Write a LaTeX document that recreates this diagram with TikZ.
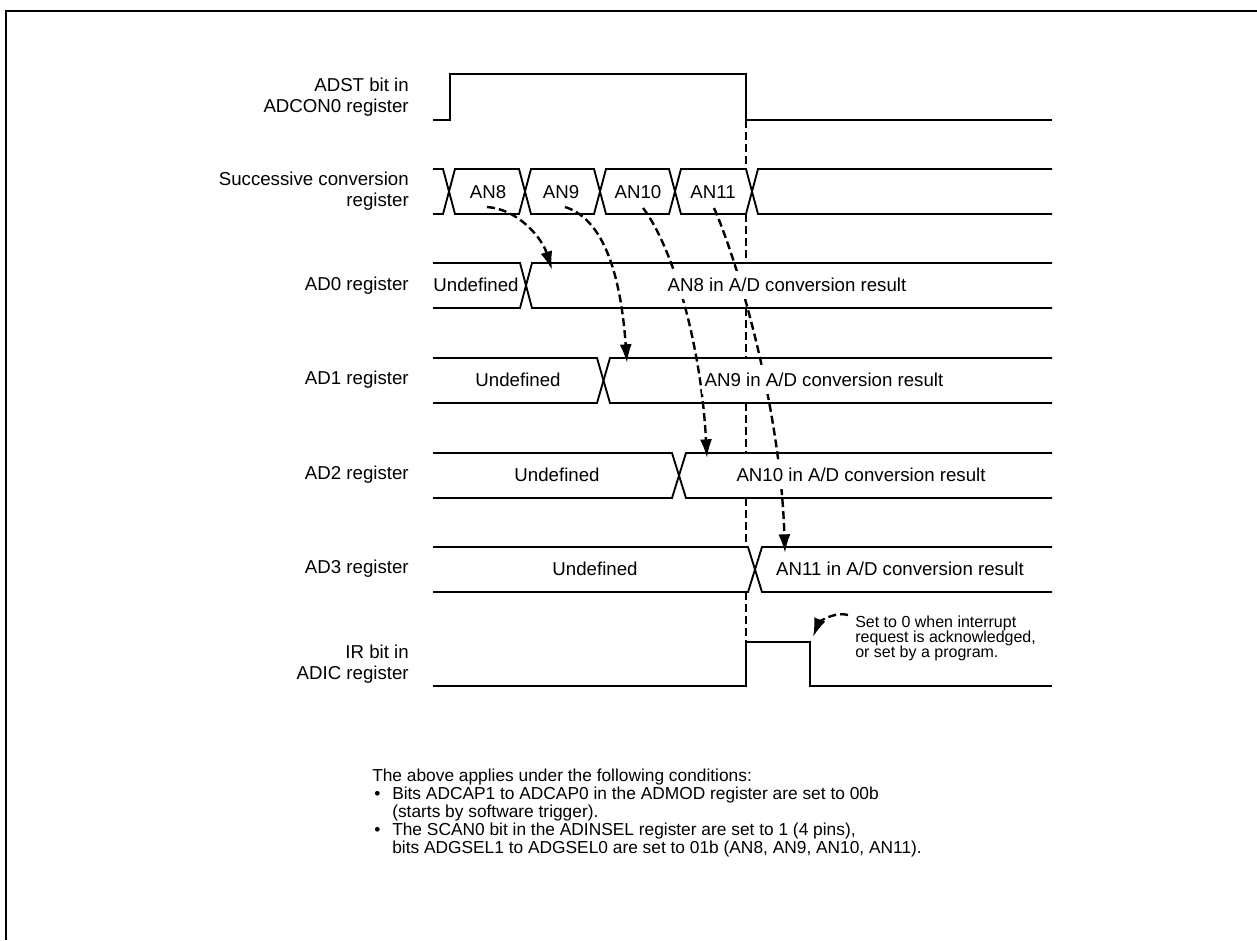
\documentclass[tikz,border=0pt]{standalone}
\usepackage{fontspec}
\setmainfont{Liberation Sans}
\usetikzlibrary{arrows.meta}
\begin{document}
\begin{tikzpicture}[x=0.75pt,y=-0.75pt,
  sig/.style={line width=1.4pt, line join=miter},
  lbl/.style={font=\fontsize{14}{15.75}\selectfont, align=right, anchor=east, inner sep=0pt},
  val/.style={font=\fontsize{14}{16}\selectfont, fill=white, inner xsep=2pt, inner ysep=5pt},
  busname/.style={font=\fontsize{14}{16}\selectfont, inner sep=1pt},
  vdash/.style={line width=1.8pt, dash pattern=on 6pt off 3pt},
  darrow/.style={line width=1.8pt, dash pattern=on 6pt off 3pt, -{Latex[length=14pt,width=9pt]}},
]
\useasboundingbox (0,0) rectangle (1257,940);
% frame
\draw[line width=2pt] (6,940) -- (6,11) -- (1257,11);

% signal labels
\node[lbl] (lADST) at (409,97) {ADST bit in\\ADCON0 register};
\node[lbl] (lSCR) at (409,191) {Successive conversion\\register};
\node[lbl] (lAD0) at (409,286) {AD0 register};
\node[lbl] (lAD1) at (409,380) {AD1 register};
\node[lbl] (lAD2) at (409,475) {AD2 register};
\node[lbl] (lAD3) at (409,569) {AD3 register};
\node[lbl] (lIR) at (409,664) {IR bit in\\ADIC register};

% ADST waveform
\draw[sig] (433,120) -- (450,120) -- (450,74) -- (746,74) -- (746,120) -- (1052,120);

% successive conversion register bus
\draw[sig] (433,169) -- (443,169) -- (455,214) -- (519,214) -- (531,169) -- (594,169) -- (606,214) -- (669,214) -- (681,169) -- (746,169) -- (758,214) -- (1052,214);
\draw[sig] (433,214) -- (443,214) -- (455,169) -- (519,169) -- (531,214) -- (594,214) -- (606,169) -- (669,169) -- (681,214) -- (746,214) -- (758,169) -- (1052,169);
\node[busname] (an8) at (488,192) {AN8};
\node[busname] (an9) at (561,192) {AN9};
\node[busname] (an10) at (638,192) {AN10};
\node[busname] (an11) at (713,192) {AN11};

% AD0..AD3 buses
\draw[sig] (433,263) -- (520,263) -- (532,308) -- (1052,308);
\draw[sig] (433,308) -- (520,308) -- (532,263) -- (1052,263);
\draw[sig] (433,358) -- (597,358) -- (610,403) -- (1052,403);
\draw[sig] (433,403) -- (597,403) -- (610,358) -- (1052,358);
\draw[sig] (433,453) -- (672,453) -- (686,498) -- (1052,498);
\draw[sig] (433,498) -- (672,498) -- (686,453) -- (1052,453);
\draw[sig] (433,547) -- (748,547) -- (762,592) -- (1052,592);
\draw[sig] (433,592) -- (748,592) -- (762,547) -- (1052,547);

% IR waveform
\draw[sig] (433,686) -- (746,686) -- (746,642) -- (810,642) -- (810,686) -- (1052,686);

% vertical dashed marker between rows
\foreach \ya/\yb in {120/169,214/263,308/358,403/453,498/547,592/642}
  \draw[vdash] (746,\ya) -- (746,\yb);

% arrow coordinates
\coordinate (s8) at (487,207);  \coordinate (t8) at (552,270);
\coordinate (s9) at (565,207);  \coordinate (t9) at (627,363);
\coordinate (s10) at (643,208); \coordinate (t10) at (707,458);
\coordinate (s11) at (714,208); \coordinate (t11) at (785,553);
\coordinate (sn) at (848,615);  \coordinate (tn) at (813,637);

\draw[darrow] (s8) .. controls (518,209) and (542,238) .. (t8);
\draw[darrow] (s9) .. controls (600,218) and (620,265) .. (t9);
\draw[darrow] (s10) .. controls (668,240) and (700,330) .. (t10);
\draw[darrow] (s11) .. controls (735,255) and (780,400) .. (t11);
\draw[darrow] (sn) .. controls (832,611) and (818,624) .. (tn);

% register contents
\node[val] (u0) at (476,285) {Undefined};
\node[val] (r0) at (787,285) {AN8 in A/D conversion result};
\node[val] (u1) at (518,380) {Undefined};
\node[val] (r1) at (824,380) {AN9 in A/D conversion result};
\node[val] (u2) at (557,475) {Undefined};
\node[val] (r2) at (861,475) {AN10 in A/D conversion result};
\node[val] (u3) at (595,569) {Undefined};
\node[val] (r3) at (900,569) {AN11 in A/D conversion result};

% note on IR
\node[anchor=north west, align=left, inner sep=0pt, font=\fontsize{12}{11.25}\selectfont] (note) at (855,616)
  {Set to 0 when interrupt\\request is acknowledged,\\or set by a program.};

% conditions
\node[anchor=north west, align=left, inner sep=0pt, font=\fontsize{13}{13.5}\selectfont] (cond) at (372,769)
  {The above applies under the following conditions:\\
   \makebox[15pt][l]{\hspace{1.5pt}•}Bits ADCAP1 to ADCAP0 in the ADMOD register are set to 00b\\
   \hspace*{15pt}(starts by software trigger).\\
   \makebox[15pt][l]{\hspace{1.5pt}•}The SCAN0 bit in the ADINSEL register are set to 1 (4 pins),\\
   \hspace*{15pt}bits ADGSEL1 to ADGSEL0 are set to 01b (AN8, AN9, AN10, AN11).};
\end{tikzpicture}
\end{document}
